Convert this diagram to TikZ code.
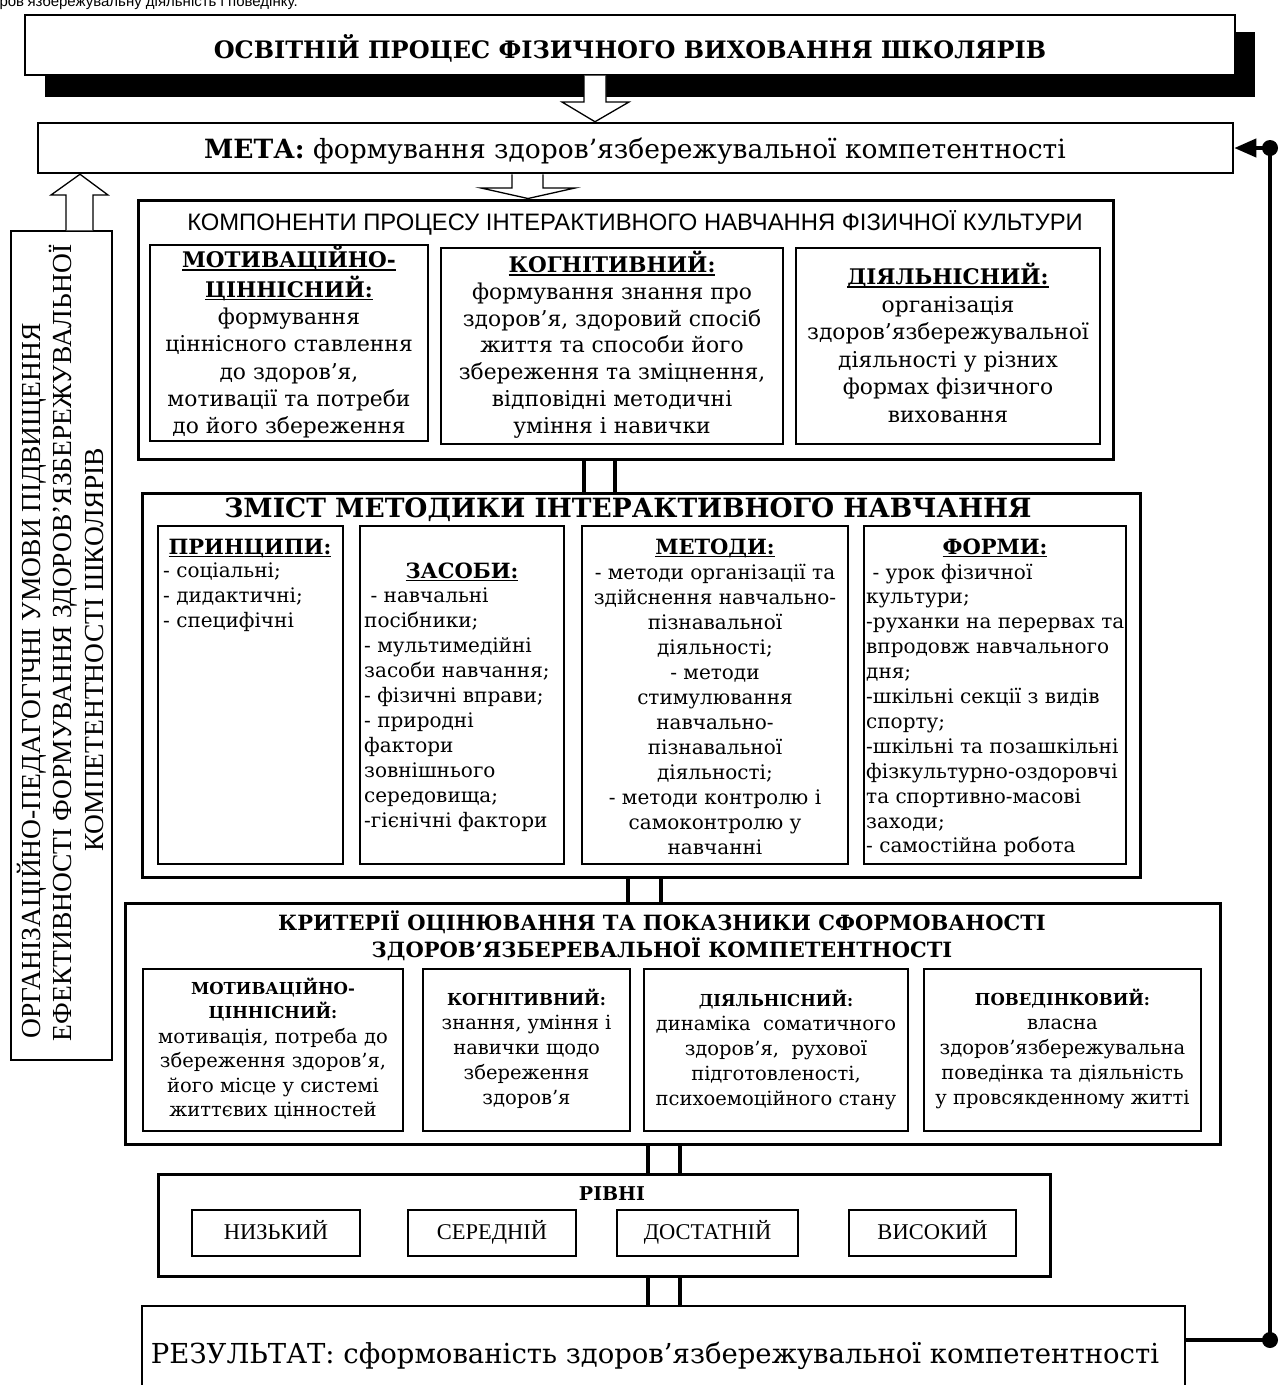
\documentclass[tikz,border=0pt]{standalone}
\usepackage{fontspec}
\setmainfont{Liberation Serif}
\newfontfamily\bk{DejaVu Serif}
\newfontfamily\tm{Liberation Serif}
\newfontfamily\ar{Liberation Sans}
\usetikzlibrary{fit,arrows.meta}
\newcommand\hd[1]{\leavevmode\setbox0\hbox{#1}\rlap{\rule[-3pt]{\wd0}{1.5pt}}\box0}
\newcommand\tb[2]{\begin{tabular}[t]{@{}#1@{}}#2\end{tabular}}
\newcommand\fnt[3]{#1\fontsize{#2}{#3}\selectfont}
\newcommand\chd[1]{{\bfseries\fontsize{21.5}{27}\selectfont\hd{#1}}}
\newcommand\zhd[1]{{\bfseries\fontsize{21}{25}\selectfont\hd{#1}}}
\newcommand\khd[1]{{\bfseries\fontsize{16.5}{20}\selectfont #1}}
\begin{document}
\begin{tikzpicture}[x=1pt,y=-1pt,
  bxa/.style={draw, line width=1.3pt, inner sep=0pt},
  bxm/.style={draw, line width=2.5pt, inner sep=0pt},
  bxb/.style={draw, line width=3pt, inner sep=0pt},
  txt/.style={inner sep=0pt, anchor=base},
  dbl/.style={line width=3.5pt},
  blk/.style={draw, fill=white, line width=1.3pt, line join=miter},
  fb/.style={line width=4pt}]
\useasboundingbox (0,0) rectangle (1283,1385);
% top clipped line
\begin{scope}
\clip (0,0) rectangle (1283,1385);
\node[txt, anchor=base east, font={\fnt\ar{15}{18}}] (topl) at (298,6) {здоров’язбережувальну діяльність і поведінку.};
\end{scope}
% title with shadow
\fill (45,32) rectangle (1255,97);
\node[bxa, fill=white, fit={(25,15)(1235,75)}] (ttl) {};
\node[txt, font={\fnt\bk{24}{30}\bfseries}] (ttlt) at (630,58) {ОСВІТНІЙ ПРОЦЕС ФІЗИЧНОГО ВИХОВАННЯ ШКОЛЯРІВ};
% goal
\node[bxm, fit={(38,123)(1233,173)}] (meta) {};
\node[txt, font={\fnt\bk{26.5}{30}}] (metat) at (635,158) {\textbf{МЕТА:} формування здоров’язбережувальної компетентності};
% components
\node[bxb, fit={(138,200)(1113,459)}] (comp) {};
\node[txt, font={\fnt\ar{23.8}{26}}] (compt) at (635,230) {КОМПОНЕНТИ ПРОЦЕСУ ІНТЕРАКТИВНОГО НАВЧАННЯ ФІЗИЧНОЇ КУЛЬТУРИ};
\node[bxa, fit={(150,245)(428,441)}] (c1) {};
\node[bxa, fit={(441,248)(783,444)}] (c2) {};
\node[bxa, fit={(796,248)(1100,444)}] (c3) {};
\node[txt, font={\fnt\bk{21.8}{27.3}}] (c1t) at (289,267.5) {\tb{c}{\chd{МОТИВАЦІЙНО-}\\\chd{ЦІННІСНИЙ:}\\формування\\ціннісного ставлення\\до здоров’я,\\мотивації та потреби\\до його збереження}};
\node[txt, font={\fnt\bk{21.8}{26.8}}] (c2t) at (612,272.5) {\tb{c}{\chd{КОГНІТИВНИЙ:}\\формування знання про\\здоров’я, здоровий спосіб\\життя та способи його\\збереження та зміцнення,\\відповідні методичні\\уміння і навички}};
\node[txt, font={\fnt\bk{21.8}{27.5}}] (c3t) at (948,284.5) {\tb{c}{\chd{ДІЯЛЬНІСНИЙ:}\\організація\\здоров’язбережувальної\\діяльності у різних\\формах фізичного\\виховання}};
% content of method
\node[bxb, fit={(142,493)(1140,877)}] (zm) {};
\node[txt, font={\fnt\bk{26.5}{30}\bfseries}] (zmt) at (628,517) {ЗМІСТ МЕТОДИКИ ІНТЕРАКТИВНОГО НАВЧАННЯ};
\node[bxa, fit={(158,526)(343,864)}] (z1) {};
\node[bxa, fit={(360,526)(564,864)}] (z2) {};
\node[bxa, fit={(582,526)(848,864)}] (z3) {};
\node[bxa, fit={(864,526)(1126,864)}] (z4) {};
\node[txt, font={\fnt\bk{20}{25}}] (z1h) at (250,554) {\zhd{ПРИНЦИПИ:}};
\node[txt, anchor=base west, font={\fnt\bk{20}{25}}] (z1i) at (163,577) {\tb{l}{- соціальні;\\- дидактичні;\\- специфічні}};
\node[txt, font={\fnt\bk{20}{25}}] (z2h) at (462,578) {\zhd{ЗАСОБИ:}};
\node[txt, anchor=base west, font={\fnt\bk{20}{25}}] (z2i) at (364,602) {\tb{l}{~- навчальні\\посібники;\\- мультимедійні\\засоби навчання;\\- фізичні вправи;\\- природні\\фактори\\зовнішнього\\середовища;\\-гієнічні фактори}};
\node[txt, font={\fnt\bk{20}{25}}] (z3t) at (715,554) {\tb{c}{\zhd{МЕТОДИ:}\\- методи організації та\\здійснення навчально-\\пізнавальної\\діяльності;\\- методи\\стимулювання\\навчально-\\пізнавальної\\діяльності;\\- методи контролю і\\самоконтролю у\\навчанні}};
\node[txt, font={\fnt\bk{20}{25}}] (z4h) at (995,554) {\zhd{ФОРМИ:}};
\node[txt, anchor=base west, font={\fnt\bk{20}{24.9}}] (z4i) at (866,579) {\tb{l}{~- урок фізичної\\культури;\\-руханки на перервах та\\впродовж навчального\\дня;\\-шкільні секції з видів\\спорту;\\-шкільні та позашкільні\\фізкультурно-оздоровчі\\та спортивно-масові\\заходи;\\- самостійна робота}};
% criteria
\node[bxb, fit={(125,903)(1220,1144)}] (kr) {};
\node[txt, font={\fnt\bk{21}{26}\bfseries}] (krt) at (662,930) {\tb{c}{КРИТЕРІЇ ОЦІНЮВАННЯ ТА ПОКАЗНИКИ СФОРМОВАНОСТІ\\ЗДОРОВ’ЯЗБЕРЕВАЛЬНОЇ КОМПЕТЕНТНОСТІ}};
\node[bxa, fit={(143,969)(403,1131)}] (k1) {};
\node[bxa, fit={(423,969)(630,1131)}] (k2) {};
\node[bxa, fit={(644,969)(908,1131)}] (k3) {};
\node[bxa, fit={(924,969)(1201,1131)}] (k4) {};
\node[txt, font={\fnt\bk{19.5}{24.5}}] (k1t) at (273,994) {\tb{c}{\khd{МОТИВАЦІЙНО-}\\\khd{ЦІННІСНИЙ:}\\мотивація, потреба до\\збереження здоров’я,\\його місце у системі\\життєвих цінностей}};
\node[txt, font={\fnt\bk{19.5}{24.8}}] (k2t) at (526.5,1005) {\tb{c}{\khd{КОГНІТИВНИЙ:}\\знання, уміння і\\навички щодо\\збереження\\здоров’я}};
\node[txt, font={\fnt\bk{19.5}{24.8}}] (k3t) at (776,1006) {\tb{c}{\khd{ДІЯЛЬНІСНИЙ:}\\динаміка~ соматичного\\здоров’я,~ рухової\\підготовленості,\\психоемоційного стану}};
\node[txt, font={\fnt\bk{19.5}{24.8}}] (k4t) at (1062.5,1005) {\tb{c}{\khd{ПОВЕДІНКОВИЙ:}\\власна\\здоров’язбережувальна\\поведінка та діяльність\\у провсякденному житті}};
% levels
\node[bxb, fit={(158,1174)(1050,1276)}] (rv) {};
\node[txt, font={\fnt\bk{19}{22}\bfseries}] (rvt) at (612,1200) {РІВНІ};
\node[bxa, fit={(192,1210)(360,1256)}] (l1) {};
\node[bxa, fit={(408,1210)(576,1256)}] (l2) {};
\node[bxa, fit={(617,1210)(798,1256)}] (l3) {};
\node[bxa, fit={(849,1210)(1016,1256)}] (l4) {};
\node[txt, font={\fnt\tm{22.5}{26}}] (l1t) at (276,1239) {НИЗЬКИЙ};
\node[txt, font={\fnt\tm{22.5}{26}}] (l2t) at (492,1239) {СЕРЕДНІЙ};
\node[txt, font={\fnt\tm{22.5}{26}}] (l3t) at (707.5,1239) {ДОСТАТНІЙ};
\node[txt, font={\fnt\tm{22.5}{26}}] (l4t) at (932.5,1239) {ВИСОКИЙ};
% result
\node[draw, line width=2.2pt, inner sep=0pt, fit={(142,1306)(1185,1410)}] (res) {};
\node[txt, font={\fnt\bk{27.5}{30}}] (rest) at (655,1363) {РЕЗУЛЬТАТ: сформованість здоров’язбережувальної компетентності};
% left conditions box
\node[bxa, fit={(11,231)(112,1060)}] (lb) {};
\node[txt, rotate=90, font={\fnt\tm{27.5}{31}}] (lb1) at (40,681) {ОРГАНІЗАЦІЙНО-ПЕДАГОГІЧНІ УМОВИ ПІДВИЩЕННЯ};
\node[txt, rotate=90, font={\fnt\tm{27.5}{31}}] (lb2) at (71,643) {ЕФЕКТИВНОСТІ ФОРМУВАННЯ ЗДОРОВ’ЯЗБЕРЕЖУВАЛЬНОЇ};
\node[txt, rotate=90, font={\fnt\tm{27.5}{31}}] (lb3) at (103,650) {КОМПЕТЕНТНОСТІ ШКОЛЯРІВ};
% block arrows
\path[blk] (584,0 |- ttl.south) -- (584,102) -- (562,102) -- (595,0 |- meta.north) -- (629,102) -- (606,102) -- (606,0 |- ttl.south);
\path[blk] (512,0 |- meta.south) -- (512,188) -- (481,188) -- (528,0 |- comp.north) -- (575,188) -- (543,188) -- (543,0 |- meta.south);
\path[blk] (66,0 |- lb.north) -- (66,195) -- (51,195) -- (80,0 |- meta.south) -- (108,195) -- (93,195) -- (93,0 |- lb.north);
% double connectors
\draw[dbl] (584,0 |- comp.south) -- (584,0 |- zm.north);
\draw[dbl] (615,0 |- comp.south) -- (615,0 |- zm.north);
\draw[dbl] (628,0 |- zm.south) -- (628,0 |- kr.north);
\draw[dbl] (661,0 |- zm.south) -- (661,0 |- kr.north);
\draw[dbl] (648,0 |- kr.south) -- (648,0 |- rv.north);
\draw[dbl] (680,0 |- kr.south) -- (680,0 |- rv.north);
\draw[dbl] (648,0 |- rv.south) -- (648,0 |- res.north);
\draw[dbl] (680,0 |- rv.south) -- (680,0 |- res.north);
% feedback
\coordinate (fbt) at (1270,148);
\coordinate (fbb) at (1270,1340);
\draw[fb, -{Triangle[length=22pt,width=18pt]}] (fbb) -- (fbt) -- (meta.east |- fbt);
\draw[fb] (res.east |- fbb) -- (fbb);
\fill (fbt) circle (8);
\fill (fbb) circle (8);
\end{tikzpicture}
\end{document}
